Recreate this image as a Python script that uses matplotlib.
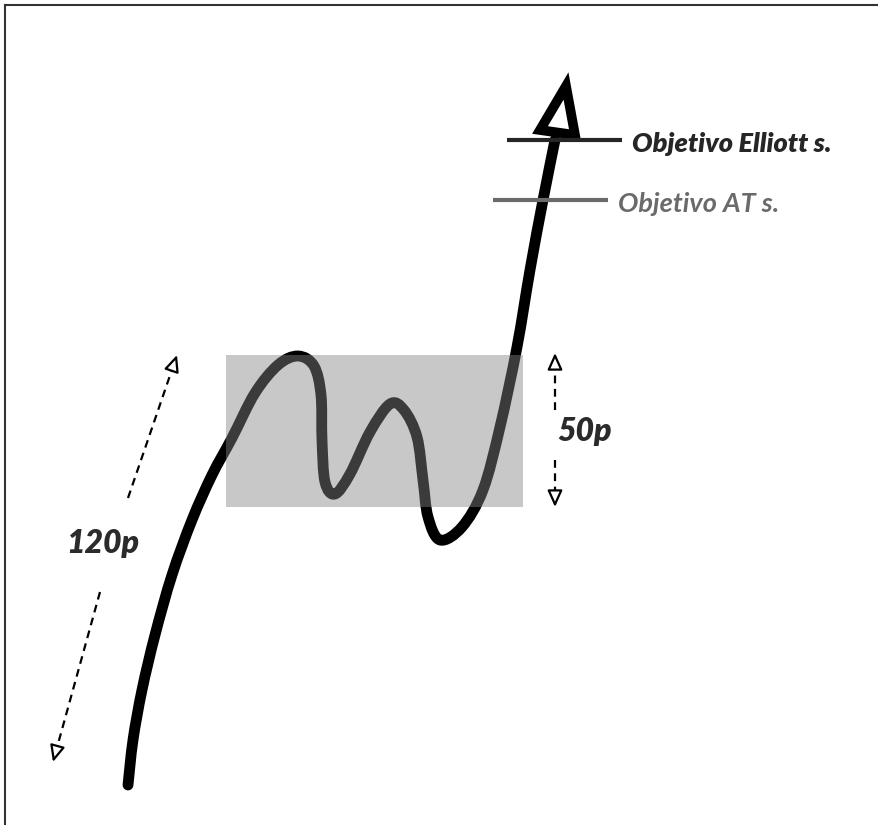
import matplotlib
matplotlib.use("Agg")
import matplotlib.pyplot as plt
import numpy as np
from matplotlib.path import Path
from matplotlib.patches import PathPatch, Polygon, Rectangle

# price path (pixel-like units, y grows downward)
curve_x = [128, 133, 142, 155, 172, 192, 212, 232, 255, 278, 298, 314, 321, 322, 325,
           335, 350, 370, 390, 404, 417, 423, 428, 440, 462, 483, 500, 517, 530, 543, 555]
curve_y = [785, 740, 690, 635, 575, 520, 475, 438, 393, 365, 356, 366, 395, 440, 482,
           494, 474, 432, 404, 410, 437, 480, 517, 540, 527, 490, 427, 347, 270, 200, 140]
head_x = [566, 540, 575]
head_y = [86, 130, 135]

# consolidation range box
box = dict(x0=226, x1=523, y0=355, y1=507)

# targets
targets = [
    ("Objetivo Elliott s.", 507, 622, 140, "#262626", "heavy"),
    ("Objetivo AT s.", 493, 608, 200, "#6a6a6a", "bold"),
]

# dashed measure arrows: (x_start, y_start, x_tip, y_tip)
measure_120 = [(128, 498, 177, 355), (100, 592, 53, 762)]
measure_50 = [(555, 410, 555, 353), (555, 460, 555, 507)]
labels = [("120p", 103, 543), ("50p", 585, 431)]


def smooth_path(xs, ys):
    # catmull-rom -> cubic bezier segments
    p = np.column_stack([xs, ys]).astype(float)
    p = np.vstack([p[0], p, p[-1]])
    verts = [p[1]]
    codes = [Path.MOVETO]
    for i in range(1, len(p) - 2):
        c1 = p[i] + (p[i + 1] - p[i - 1]) / 6.0
        c2 = p[i + 1] - (p[i + 2] - p[i]) / 6.0
        verts += [c1, c2, p[i + 1]]
        codes += [Path.CURVE4] * 3
    return Path(verts, codes)


plt.rcParams['font.family'] = ['Lato', 'DejaVu Sans']

fig = plt.figure(figsize=(8.79, 8.25), dpi=100)
ax = fig.add_axes([0, 0, 1, 1])
ax.set_xlim(0, 879)
ax.set_ylim(825, 0)
ax.axis("off")

# frame (top + left)
ax.plot([5, 879], [5, 5], color="#333333", lw=1.5, zorder=1)
ax.plot([5, 5], [5, 825], color="#333333", lw=1.5, zorder=1)

ax.add_patch(PathPatch(smooth_path(curve_x, curve_y), fill=False, edgecolor="black",
                       lw=7.8, capstyle="round", joinstyle="round", zorder=2))

ax.add_patch(Rectangle((box["x0"], box["y0"]), box["x1"] - box["x0"], box["y1"] - box["y0"],
                       facecolor="#858585", alpha=0.45, edgecolor="none", zorder=3))

ax.add_patch(Polygon(np.column_stack([head_x, head_y]), closed=True, facecolor="white",
                     edgecolor="black", lw=7, joinstyle="miter", zorder=4))

for txt, xa, xb, y, col, wt in targets:
    ax.plot([xa, xb], [y, y], color=col, lw=3, solid_capstyle="butt", zorder=5)
    ax.text(xb + 10, y + 4, txt, color=col, fontsize=19.5, fontweight=wt, style="italic",
            ha="left", va="center", zorder=6)

for xs, ys, xt, yt in measure_120 + measure_50:
    # dashed shaft up to the base of the head, then a solid open head
    d = np.hypot(xt - xs, yt - ys)
    f = 1 - 14 / d
    xb, yb = xs + (xt - xs) * f, ys + (yt - ys) * f
    ax.plot([xs, xb], [ys, yb], color="black", lw=1.6, ls=(0, (3.5, 2.5)), zorder=6)
    ax.annotate("", xy=(xt, yt), xytext=(xb, yb),
                arrowprops=dict(arrowstyle="-|>,head_length=1.0,head_width=0.45",
                                lw=1.6, color="black", fc="white", shrinkA=0, shrinkB=0),
                zorder=6)

for txt, x, y in labels:
    ax.text(x, y, txt, color="#2b2b2b", fontsize=23, fontweight="heavy", style="italic",
            ha="center", va="center", zorder=6)

fig.savefig("out.png", dpi=100)
